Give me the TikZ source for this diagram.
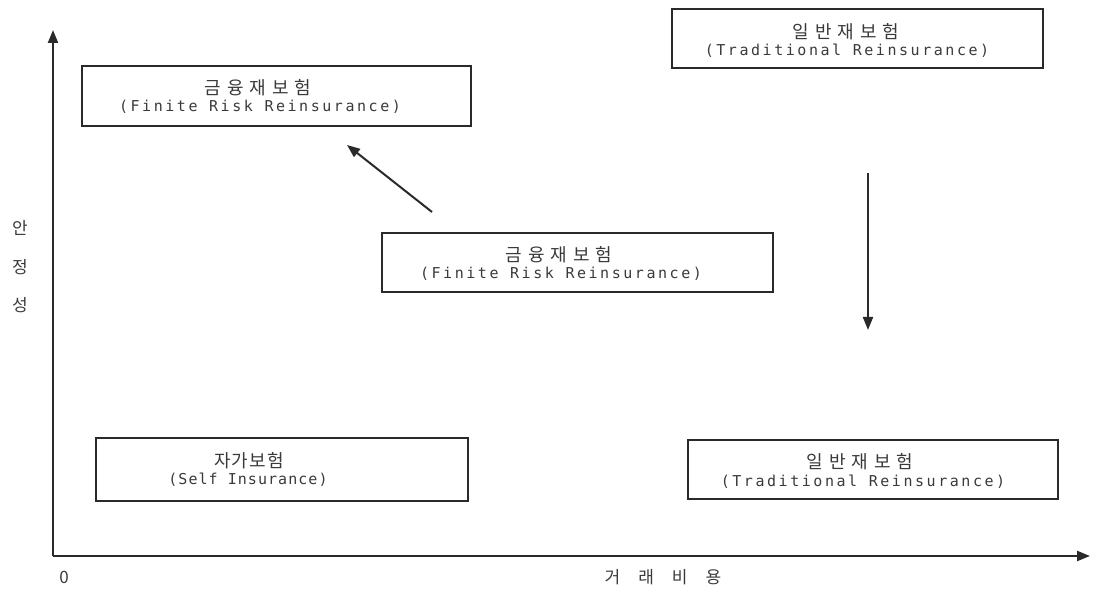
\documentclass[tikz,border=0pt]{standalone}
\usepackage{fontspec}
\setmainfont{DejaVu Sans}
\newfontfamily\korA{Noto Sans CJK KR}[LetterSpace=33]
\newfontfamily\korB{Noto Sans CJK KR}[LetterSpace=6]
\newfontfamily\korC{Noto Sans CJK KR}
\newfontfamily\engA{DejaVu Sans Mono}[LetterSpace=17]
\newfontfamily\engB{DejaVu Sans Mono}[LetterSpace=7]
\usetikzlibrary{arrows.meta}
\definecolor{ln}{HTML}{2a2a2a}
\definecolor{tx}{HTML}{3a3a3a}
\tikzset{
  boxst/.style={draw=ln, line width=2pt, inner sep=0pt},
  kr/.style={text=tx, font=\korA\fontsize{18}{18}\selectfont, inner sep=0pt, anchor=center},
  krb/.style={text=tx, font=\korB\fontsize{18}{18}\selectfont, inner sep=0pt, anchor=center},
  en/.style={text=tx, font=\engA\fontsize{15}{15}\selectfont, inner sep=0pt, anchor=center},
  enb/.style={text=tx, font=\engB\fontsize{15}{15}\selectfont, inner sep=0pt, anchor=center},
  axl/.style={text=tx, font=\korC\fontsize{17}{17}\selectfont, inner sep=0pt},
  axis/.style={draw=ln, line width=2.2pt, -{Triangle[length=13pt,width=10pt]}},
  arr/.style={draw=ln, line width=2pt, -{Triangle[length=13pt,width=10pt]}}
}
\begin{document}
\begin{tikzpicture}[x=1pt,y=-1pt]
\useasboundingbox (0,0) rectangle (1096,593);
% axes
\coordinate (O) at (53,556);
\coordinate (Ytop) at (53,30);
\coordinate (Xend) at (1090,556);
\draw[axis] (O) -- (Ytop);
\draw[axis] (O) -- (Xend);
\node[axl] (zero) at (64,577) {0};
\node[axl] (xlab) at (663,577) {거\hspace{18pt}래\hspace{18pt}비\hspace{18pt}용};
\node[axl] (y1) at (20,228) {안};
\node[axl] (y2) at (20,267) {정};
\node[axl] (y3) at (20,305) {성};
% boxes
\node[boxst, minimum width=389pt, minimum height=60pt] (b1) at (276,96) {};
\node[kr] (b1k) at (258,88) {금융재보험};
\node[en] (b1e) at (260,107) {(Finite Risk Reinsurance)};
\node[boxst, minimum width=371pt, minimum height=59pt] (b2) at (857.5,38.5) {};
\node[kr] (b2k) at (846,32) {일반재보험};
\node[en] (b2e) at (847,51) {(Traditional Reinsurance)};
\node[boxst, minimum width=391pt, minimum height=59pt] (b3) at (577.5,262.5) {};
\node[kr] (b3k) at (559,255) {금융재보험};
\node[en] (b3e) at (561,274) {(Finite Risk Reinsurance)};
\node[boxst, minimum width=372pt, minimum height=63pt] (b4) at (282,469.5) {};
\node[krb] (b4k) at (249,461) {자가보험};
\node[enb] (b4e) at (248,480) {(Self Insurance)};
\node[boxst, minimum width=370pt, minimum height=59pt] (b5) at (873,470) {};
\node[kr] (b5k) at (860,462) {일반재보험};
\node[en] (b5e) at (863,482) {(Traditional Reinsurance)};
% arrows
\coordinate (d1) at (432,212);
\coordinate (d2) at (347,145);
\draw[arr] (d1) -- (d2);
\coordinate (v1) at (868,173);
\coordinate (v2) at (868,330);
\draw[arr] (v1) -- (v2);
\end{tikzpicture}
\end{document}
